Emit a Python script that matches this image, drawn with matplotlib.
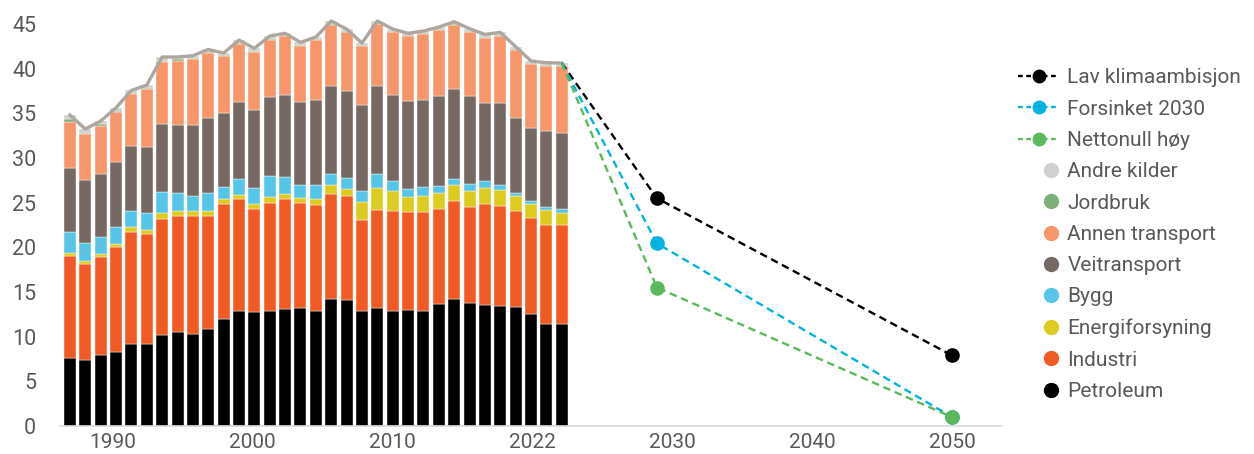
import numpy as np
import matplotlib
matplotlib.use("Agg")
import matplotlib.pyplot as plt
from matplotlib.lines import Line2D
from matplotlib.legend_handler import HandlerBase

plt.rcParams["font.family"] = ["Roboto", "DejaVu Sans"]

# Historical CO2 emissions by sector (Mt), 1990-2022
years = list(range(1990, 2023))
petroleum = [7.65, 7.39, 7.95, 8.28, 9.18, 9.18, 10.19, 10.52, 10.30, 10.86,
             11.98, 12.87, 12.76, 12.87, 13.10, 13.21, 12.87, 14.22, 14.10, 12.87,
             13.21, 12.87, 12.99, 12.87, 13.66, 14.22, 13.77, 13.54, 13.43, 13.32,
             12.54, 11.42, 11.42]
industri = [11.42, 10.78, 11.01, 11.79, 12.57, 12.31, 13.02, 12.99, 13.21, 12.65,
            12.87, 12.54, 11.53, 12.09, 12.31, 11.75, 11.87, 11.75, 11.65, 10.19,
            10.97, 11.20, 10.97, 11.09, 10.63, 10.97, 10.74, 11.31, 11.20, 10.75,
            10.74, 11.08, 11.08]
energiforsyning = [0.33, 0.34, 0.33, 0.34, 0.53, 0.45, 0.67, 0.52, 0.56, 0.56,
                   0.56, 0.45, 0.56, 0.71, 0.52, 0.56, 0.67, 1.01, 0.78, 2.01,
                   2.46, 2.24, 1.67, 1.79, 1.79, 1.79, 1.80, 1.79, 1.79, 1.68,
                   1.57, 1.68, 1.38]
bygg = [2.35, 1.98, 1.83, 1.90, 1.82, 1.90, 2.28, 2.01, 1.71, 1.97,
        1.38, 1.75, 1.83, 2.32, 1.91, 1.42, 1.53, 1.27, 1.19, 1.24,
        1.61, 1.08, 0.94, 1.00, 0.75, 0.63, 0.78, 0.75, 0.52, 0.33,
        0.34, 0.33, 0.37]
veitransport = [7.17, 7.08, 7.13, 7.28, 7.28, 7.43, 7.68, 7.69, 7.91, 8.44,
                8.21, 8.66, 8.69, 8.84, 9.21, 9.33, 9.59, 9.85, 9.74, 9.62,
                9.85, 9.66, 9.81, 9.78, 10.11, 10.15, 9.89, 8.80, 9.25, 8.43,
                8.13, 8.55, 8.59]
annen_transport = [5.15, 5.08, 5.37, 5.60, 5.75, 6.45, 6.87, 7.17, 7.39, 7.31,
                   6.38, 6.49, 6.53, 6.38, 6.57, 6.30, 6.68, 6.79, 6.64, 6.61,
                   6.90, 7.05, 7.24, 7.35, 7.39, 7.13, 7.16, 7.28, 7.43, 7.62,
                   7.17, 7.28, 7.46]
jordbruk = [0.30, 0.19, 0.22, 0.11, 0.11, 0.15, 0.19, 0.14, 0.11, 0.11,
            0.11, 0.11, 0.11, 0.11, 0.11, 0.12, 0.11, 0.11, 0.12, 0.11,
            0.11, 0.15, 0.11, 0.11, 0.11, 0.11, 0.11, 0.11, 0.15, 0.11,
            0.11, 0.11, 0.11]
andre_kilder = [0.44, 0.41, 0.30, 0.33, 0.33, 0.30, 0.41, 0.27, 0.26, 0.26,
                0.26, 0.33, 0.27, 0.34, 0.23, 0.26, 0.22, 0.34, 0.22, 0.22,
                0.23, 0.19, 0.23, 0.23, 0.22, 0.26, 0.23, 0.26, 0.30, 0.22,
                0.26, 0.22, 0.22]

# Scenario paths from the last historical year
scenario_years = [2022, 2030, 2050]
lav_klimaambisjon = [40.63, 25.5, 7.9]
forsinket_2030 = [40.63, 20.45, 1.0]
nettonull_hoy = [40.63, 15.5, 1.0]

tick_labels = ["1990", "2000", "2010", "2022", "2030", "2040", "2050"]

sectors = [
    ("Petroleum", petroleum, "#000000"),
    ("Industri", industri, "#F15A24"),
    ("Energiforsyning", energiforsyning, "#DDCB1F"),
    ("Bygg", bygg, "#56C5E8"),
    ("Veitransport", veitransport, "#766862"),
    ("Annen transport", annen_transport, "#F7966B"),
    ("Jordbruk", jordbruk, "#7FAF78"),
    ("Andre kilder", andre_kilder, "#D2D0CF"),
]


def x_pos(year):
    """Horizontal position: one slot per historical year, compressed scale for projections."""
    year = np.asarray(year, dtype=float)
    hist = year - years[0]
    proj = 38.19 + (year - 2030) * 0.96
    return np.where(year <= years[-1], hist, proj)


class OffsetDot(HandlerBase):
    """Legend dot drawn toward the right end of the handle box."""

    def create_artists(self, legend, orig_handle, xdescent, ydescent,
                       width, height, fontsize, trans):
        dot = Line2D([0.81 * width - xdescent], [0.5 * height - ydescent],
                     ls="none", marker="o", ms=orig_handle.get_markersize(),
                     mfc=orig_handle.get_markerfacecolor(),
                     mec=orig_handle.get_markeredgecolor())
        dot.set_transform(trans)
        return [dot]


fig = plt.figure(figsize=(12.54, 4.54), dpi=100)
ax = fig.add_axes([0.0478, 0.0617, 0.7512, 0.9050])

bar_x = x_pos(years)
bottom = np.zeros(len(years))
for name, vals, color in sectors:
    vals = np.asarray(vals)
    ax.bar(bar_x, vals, width=0.78, bottom=bottom, color=color,
           edgecolor="white", linewidth=0.3, zorder=2)
    bottom = bottom + vals

# Total emissions line over the bars
ax.plot(bar_x, bottom, color="#ADA79F", lw=2.4, zorder=3, solid_joinstyle="round",
        clip_on=False)

scen_x = x_pos(scenario_years)
scenarios = [
    ("Lav klimaambisjon", lav_klimaambisjon, "#000000"),
    ("Forsinket 2030", forsinket_2030, "#00B3E0"),
    ("Nettonull høy", nettonull_hoy, "#5CB85C"),
]
for name, vals, color in scenarios:
    ax.plot(scen_x, vals, color=color, lw=1.7, ls=(0, (3.2, 2.0)), zorder=4)
    ax.plot(scen_x[1:], vals[1:], "o", color=color, ms=9.5, zorder=5, clip_on=False)

ax.set_xlim(-0.65, 60.64)
ax.set_ylim(0, 46)
ax.set_yticks(np.arange(0, 46, 5))
ax.set_xticks(np.linspace(2.8, 57.39, len(tick_labels)))
ax.set_xticklabels(tick_labels)

text_color = "#595959"
ax.tick_params(axis="both", length=0, labelsize=15.5, colors=text_color)
ax.tick_params(axis="y", pad=17)
ax.tick_params(axis="x", pad=5, labelsize=15)
for side in ("top", "right", "left"):
    ax.spines[side].set_visible(False)
ax.spines["bottom"].set_color("#D9D9D9")
ax.spines["bottom"].set_linewidth(1.2)

handles = []
labels = []
handler_map = {}
for name, vals, color in scenarios:
    handles.append(Line2D([], [], color=color, lw=1.7, ls=(0, (2.0, 1.5)),
                          marker="o", ms=9, mfc=color, mec=color))
    labels.append(name)
for name, vals, color in reversed(sectors):
    h = Line2D([], [], ls="none", marker="o", ms=10, mfc=color, mec=color)
    handles.append(h)
    handler_map[h] = OffsetDot()
    labels.append(name)

leg = fig.legend(handles, labels, loc="upper left", bbox_to_anchor=(0.8049, 0.8676),
                 frameon=False, fontsize=15, handlelength=2.0, handletextpad=0.38,
                 labelspacing=0.59, borderaxespad=0, handler_map=handler_map)
for t in leg.get_texts():
    t.set_color(text_color)

fig.savefig("out.png", dpi=100)
